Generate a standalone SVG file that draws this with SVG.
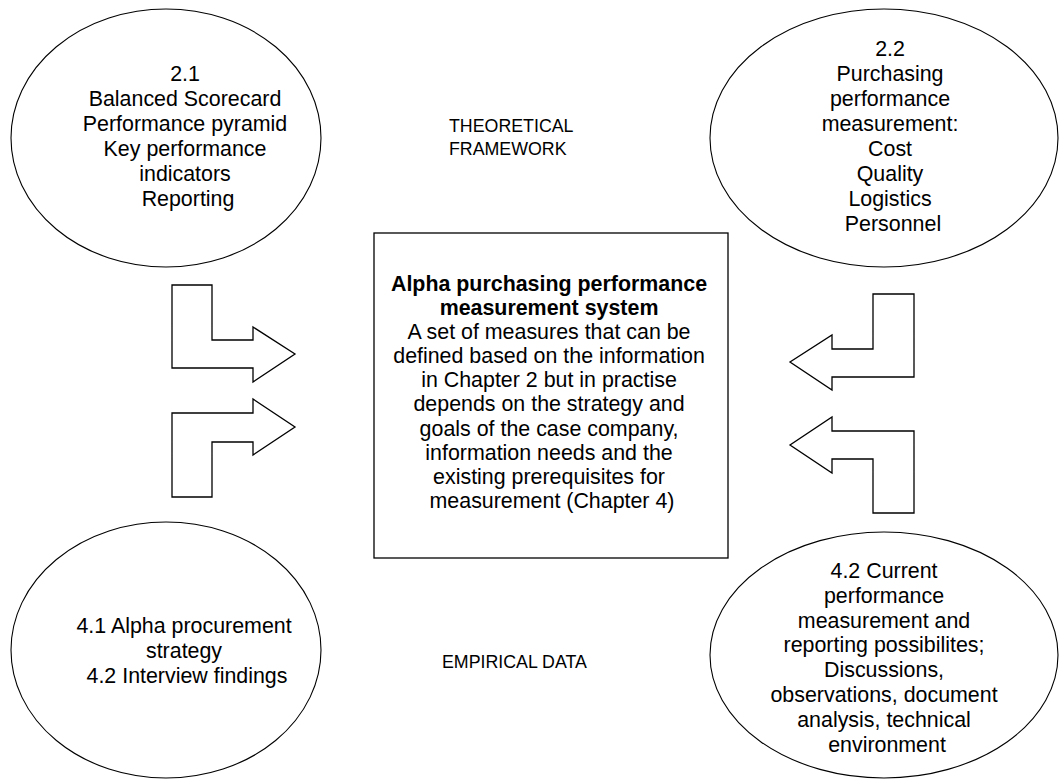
<svg xmlns="http://www.w3.org/2000/svg" width="1059" height="781" viewBox="0 0 1059 781">
  <style>
    .bg { fill: #ffffff; }
    .shape { fill: #ffffff; stroke: #000000; stroke-width: 1.3; }
    .oval { fill: #ffffff; stroke: #000000; stroke-width: 1.1; }
    .txt { font-family: "Liberation Sans", Arial, Helvetica, sans-serif; font-size: 21.4px; fill: #000000; text-anchor: middle; }
    .bold { font-weight: bold; }
    .label { font-family: "Liberation Sans", Arial, Helvetica, sans-serif; font-size: 17.8px; fill: #000000; }
  </style>
  <rect class="bg" x="0" y="0" width="1059" height="781"/>

  <!-- Theory: frameworks -->
  <g id="node-frameworks">
    <ellipse class="oval" cx="166" cy="138" rx="155" ry="129"/>
    <text class="txt">
      <tspan x="188" y="81">2.1</tspan>
      <tspan x="188" y="106">Balanced Scorecard</tspan>
      <tspan x="188" y="131">Performance pyramid</tspan>
      <tspan x="188" y="156">Key performance</tspan>
      <tspan x="188" y="181">indicators</tspan>
      <tspan x="188" y="206">Reporting</tspan>
    </text>
  </g>

  <!-- Theory: purchasing performance measurement -->
  <g id="node-ppm">
    <ellipse class="oval" cx="884" cy="138" rx="174" ry="129"/>
    <text class="txt">
      <tspan x="893" y="56">2.2</tspan>
      <tspan x="893" y="81">Purchasing</tspan>
      <tspan x="893" y="106">performance</tspan>
      <tspan x="893" y="131">measurement:</tspan>
      <tspan x="893" y="156">Cost</tspan>
      <tspan x="893" y="181">Quality</tspan>
      <tspan x="893" y="206">Logistics</tspan>
      <tspan x="893" y="231">Personnel</tspan>
    </text>
  </g>

  <!-- Central measurement system -->
  <g id="node-system">
    <rect class="shape" x="374" y="233" width="354" height="325"/>
    <text class="txt">
      <tspan class="bold" x="552" y="291">Alpha purchasing performance</tspan>
      <tspan class="bold" x="552" y="315">measurement system</tspan>
      <tspan x="552" y="339">A set of measures that can be</tspan>
      <tspan x="552" y="363">defined based on the information</tspan>
      <tspan x="552" y="387">in Chapter 2 but in practise</tspan>
      <tspan x="552" y="411">depends on the strategy and</tspan>
      <tspan x="552" y="436">goals of the case company,</tspan>
      <tspan x="552" y="460">information needs and the</tspan>
      <tspan x="552" y="484">existing prerequisites for</tspan>
      <tspan x="552" y="508">measurement (Chapter 4)</tspan>
    </text>
  </g>

  <!-- Empirical: strategy and interviews -->
  <g id="node-interviews">
    <ellipse class="oval" cx="166" cy="650" rx="155" ry="128"/>
    <text class="txt">
      <tspan x="187" y="633">4.1 Alpha procurement</tspan>
      <tspan x="187" y="658">strategy</tspan>
      <tspan x="187" y="683">4.2 Interview findings</tspan>
    </text>
  </g>

  <!-- Empirical: current measurement -->
  <g id="node-current">
    <ellipse class="oval" cx="884" cy="655" rx="174" ry="123"/>
    <text class="txt">
      <tspan x="887" y="578">4.2 Current</tspan>
      <tspan x="887" y="603">performance</tspan>
      <tspan x="887" y="628">measurement and</tspan>
      <tspan x="887" y="652">reporting possibilites;</tspan>
      <tspan x="887" y="677">Discussions,</tspan>
      <tspan x="887" y="702">observations, document</tspan>
      <tspan x="887" y="727">analysis, technical</tspan>
      <tspan x="887" y="752">environment</tspan>
    </text>
  </g>

  <!-- Section labels -->
  <g id="label-theory">
    <text class="label"><tspan x="449" y="132">THEORETICAL</tspan><tspan x="449" y="155">FRAMEWORK</tspan></text>
  </g>
  <g id="label-empirical">
    <text class="label" x="442" y="668">EMPIRICAL DATA</text>
  </g>

  <!-- Bent block arrows feeding the central box -->
  <g id="connectors">
    <polygon class="shape" points="172,285 212,285 212,340 253,340 253,327 295,354 253,382 253,368 172,368"/>
    <polygon class="shape" points="172,497 172,413 253,413 253,399 295,427 253,455 253,442 212,442 212,497"/>
    <polygon class="shape" points="873,294 914,294 914,377 832,377 832,390 790,362 832,335 832,349 873,349"/>
    <polygon class="shape" points="914,431 914,513 873,513 873,459 832,459 832,473 790,445 832,417 832,431"/>
  </g>
</svg>
